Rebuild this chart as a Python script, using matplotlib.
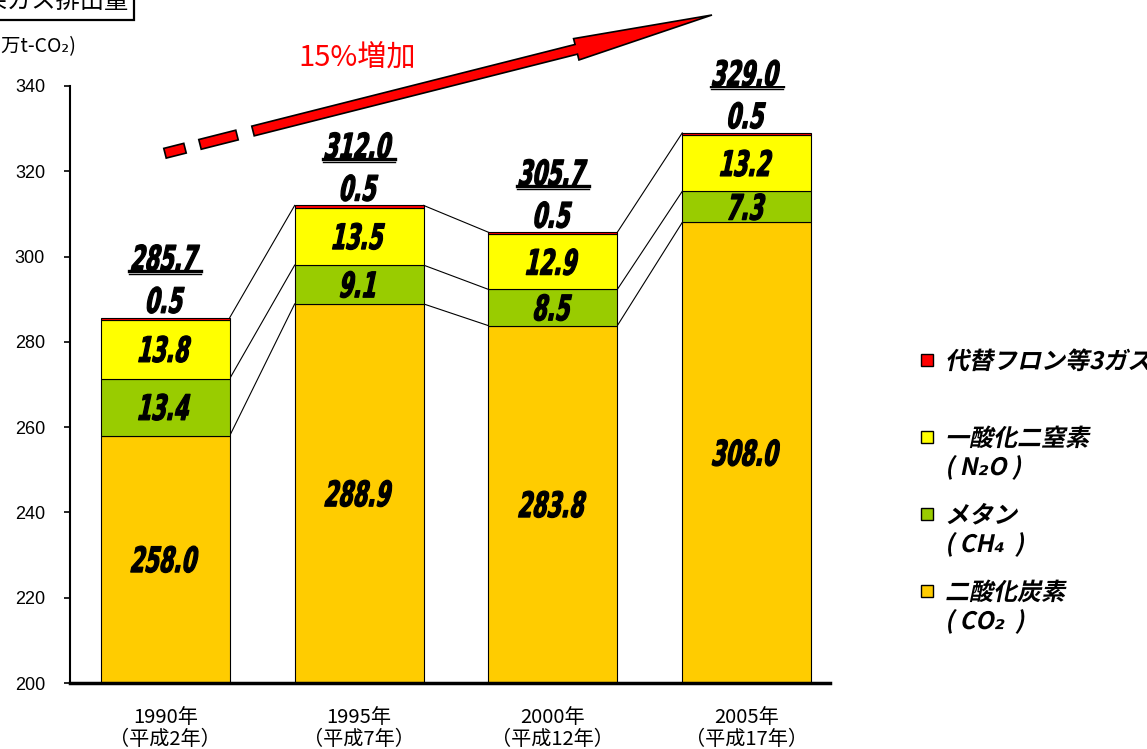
import numpy as np
import matplotlib.pyplot as plt
from matplotlib.patches import Rectangle, Polygon, PathPatch
from matplotlib.transforms import Affine2D
from matplotlib.textpath import TextPath
from matplotlib.font_manager import FontProperties

plt.rcParams['font.family'] = ['Noto Sans CJK JP', 'DejaVu Sans']

# data (百万t-CO2)
years = ['1990年\n（平成2年）', '1995年\n（平成7年）', '2000年\n（平成12年）', '2005年\n（平成17年）']
co2 = [258.0, 288.9, 283.8, 308.0]
ch4 = [13.4, 9.1, 8.5, 7.3]
n2o = [13.8, 13.5, 12.9, 13.2]
fgas = [0.5, 0.5, 0.5, 0.5]
totals = [285.7, 312.0, 305.7, 329.0]

legend_labels = ['代替フロン等3ガス', '一酸化二窒素\n( N₂O )', 'メタン\n( CH₄  )', '二酸化炭素\n( CO₂  )']
c_co2, c_ch4, c_n2o, c_fgas = '#FFCC00', '#99CC00', '#FFFF00', '#FF0000'
legend_colors = [c_fgas, c_n2o, c_ch4, c_co2]

W, H = 1147, 749
fig = plt.figure(figsize=(W / 100, H / 100), dpi=100)
ax = fig.add_axes([70 / W, 1 - 683 / H, 760 / W, 597 / H])
# pixel coords measured from top-left of the image
pix = Affine2D().scale(1 / W, -1 / H).translate(0, 1) + fig.transFigure

numprop = FontProperties(family='DejaVu Sans', weight='bold')
legprop = FontProperties(family=['Noto Sans CJK JP', 'DejaVu Sans'], weight='bold')


def path_text(px, py, s, prop, size, sx=1.0, skew=12, ha='center', vcenter=True, stroke=0):
    # draws italic / condensed text as a path, px/py in display pixels
    tp = TextPath((0, 0), s, size=size, prop=prop)
    bb = tp.get_extents()
    dx = -(bb.x0 + bb.x1) / 2 if ha == 'center' else 0
    dy = -(bb.y0 + bb.y1) / 2 if vcenter else 0
    tr = Affine2D().translate(dx, dy).scale(sx, 1).skew_deg(skew, 0).translate(px, py)
    fig.add_artist(PathPatch(tp, transform=tr, fc='black', ec='black', lw=stroke,
                             joinstyle='round'))


x = np.arange(len(years))
bw = 0.665
co2 = np.array(co2); ch4 = np.array(ch4); n2o = np.array(n2o); fgas = np.array(fgas)
b1 = co2
b2 = co2 + ch4
b3 = b2 + n2o
ax.bar(x, co2, bw, color=c_co2, edgecolor='black', lw=0.8, zorder=2)
ax.bar(x, ch4, bw, bottom=b1, color=c_ch4, edgecolor='black', lw=0.8, zorder=2)
ax.bar(x, n2o, bw, bottom=b2, color=c_n2o, edgecolor='black', lw=0.8, zorder=2)
ax.bar(x, fgas, bw, bottom=b3, color=c_fgas, edgecolor='black', lw=0.8, zorder=2)

# connector lines between bars
for lvl in [b1, b2, b3 + fgas]:
    for i in range(len(x) - 1):
        ax.plot([x[i] + bw / 2, x[i + 1] - bw / 2], [lvl[i], lvl[i + 1]],
                color='black', lw=0.8, zorder=1)

ax.set_xlim(-0.492, 3.43)
ax.set_ylim(200, 340)
ax.set_yticks(np.arange(200, 341, 20))
ax.set_xticks(x, years)
ax.tick_params(axis='x', length=0, pad=17, labelsize=14.5)
ax.tick_params(axis='y', length=4, width=1.2, pad=14)
for lab in ax.get_yticklabels():
    lab.set_family(['Liberation Sans', 'DejaVu Sans'])
    lab.set_fontsize(13)
for lab in ax.get_xticklabels():
    lab.set_linespacing(1.1)
ax.spines['top'].set_visible(False)
ax.spines['right'].set_visible(False)
ax.spines['left'].set_linewidth(1.5)
ax.spines['bottom'].set_linewidth(2.5)

# value labels
for i in range(len(x)):
    labs = [((200 + co2[i]) / 2, co2[i]), (b1[i] + ch4[i] / 2, ch4[i]),
            (b2[i] + n2o[i] / 2, n2o[i]), (totals[i] + 4.1, fgas[i]),
            (totals[i] + 14.0, totals[i])]
    for yv, v in labs:
        cx, cy = ax.transData.transform((x[i], yv))
        path_text(cx, cy, f'{v:.1f}', numprop, 35, sx=0.6, stroke=0.9)
    ax.plot([x[i] - 0.185, x[i] + 0.185], [totals[i] + 10.9] * 2, color='black', lw=2.4)
    ax.plot([x[i] - 0.185, x[i] + 0.185], [totals[i] + 10.2] * 2, color='black', lw=1.0)

# title box and unit label (cropped at the left edge)
fig.text(128 / W, 1 - 1 / H, '温室効果ガス排出量', ha='right', va='center', fontsize=17.5,
         bbox=dict(boxstyle='square,pad=0.25', fc='white', ec='black', lw=1.6))
fig.text(76 / W, 1 - 47 / H, '（百万t-CO₂)', ha='right', va='center', fontsize=14)

# increase arrow
S = np.array([253.0, 131.0])
T = np.array([712.0, 15.0])
d = (T - S) / np.linalg.norm(T - S)
n = np.array([-d[1], d[0]])
hw, hh = 5.0, 11.0
B = T - 140 * d
arrow = [S + hw * n, B + hw * n, B + hh * n, T, B - hh * n, B - hw * n, S - hw * n]
fig.add_artist(Polygon(arrow, closed=True, fc='red', ec='black', lw=1.2, transform=pix))
slope = d[1] / d[0]
for xa, xb in [(165, 185), (200, 237)]:
    pa = np.array([xa, T[1] + (xa - T[0]) * slope])
    pb = np.array([xb, T[1] + (xb - T[0]) * slope])
    seg = [pa + hw * n, pb + hw * n, pb - hw * n, pa - hw * n]
    fig.add_artist(Polygon(seg, closed=True, fc='red', ec='black', lw=1.2, transform=pix))
fig.text(357 / W, 1 - 58 / H, '15%増加', color='red', fontsize=21, ha='center', va='center')

# legend
for k, (lab, col) in enumerate(zip(legend_labels, legend_colors)):
    yk = 360 + 77 * k
    fig.add_artist(Rectangle((921, yk - 6), 12, 12, fc=col, ec='black', lw=1.0, transform=pix))
    for j, line in enumerate(lab.split('\n')):
        path_text(945, H - (yk + 29 * j + 9), line, legprop, 24, skew=12, ha='left', vcenter=False)

fig.savefig('out.png', dpi=100)
